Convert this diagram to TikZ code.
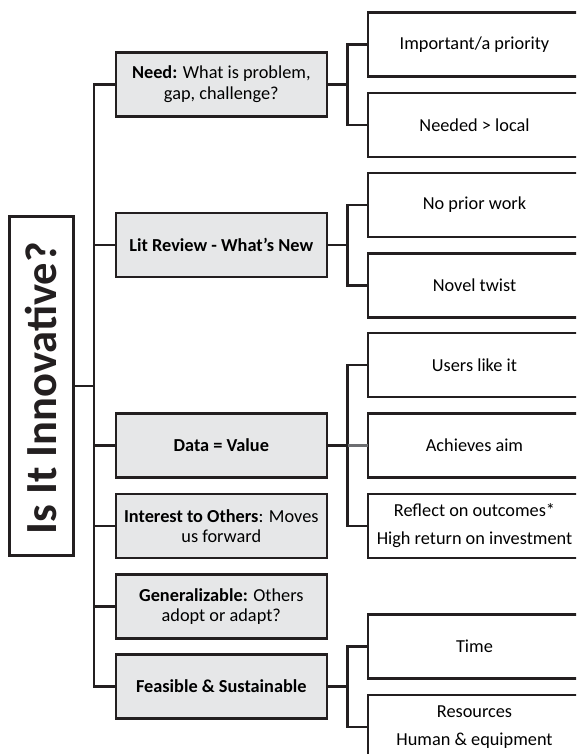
\documentclass[tikz,border=0pt]{standalone}
\usepackage{fontspec}
\setmainfont{Carlito}
\definecolor{ink}{HTML}{231F20}
\definecolor{boxfill}{HTML}{E6E7E8}
\definecolor{midgray}{HTML}{6D6E71}
\begin{document}
\begin{tikzpicture}[x=1pt,y=-1pt,
  every node/.style={inner sep=0pt,outer sep=0pt},
  conn/.style={draw=ink,line width=2.5pt},
  midbox/.style={draw=ink,line width=2.5pt,fill=boxfill,rectangle,minimum width=211pt,minimum height=64.4pt,align=center,font=\fontsize{18.3}{20.7}\selectfont},
  rbox/.style={draw=ink,line width=2.5pt,fill=white,rectangle,minimum width=213pt,minimum height=64pt,align=center,font=\fontsize{18.3}{28}\selectfont},
  titlebox/.style={draw=ink,line width=2.5pt,fill=white,rectangle,minimum width=64pt,minimum height=339pt}
]
\useasboundingbox (0,0) rectangle (576,754);
\clip (0,0) rectangle (576,754);
\fill[white] (0,0) rectangle (576,754);

% title
\node[titlebox] (title) at (41.5,385.8) {};
\node[rotate=90,font=\fontsize{44.5}{50}\selectfont\bfseries,text=ink] (titletext) at (41.2,388.4) {Is It Innovative?};

% middle column
\node[midbox] (need) at (221.3,84.5) {\textbf{Need:} What is problem,\\gap, challenge?};
\node[midbox] (lit) at (221.3,245) {\textbf{Lit Review - What{\char"27}s New}};
\node[midbox] (data) at (221.3,445.5) {\textbf{Data = Value}};
\node[midbox] (inter) at (221.3,526) {\textbf{Interest to Others}: Moves\\us forward};
\node[midbox] (gen) at (221.3,606.5) {\textbf{Generalizable:} Others\\adopt or adapt?};
\node[midbox] (feas) at (221.3,686.5) {\textbf{Feasible \& Sustainable}};

% right column
\node[rbox] (imp) at (474.5,44.7) {Important/a priority};
\node[rbox] (needed) at (474.5,125) {Needed > local};
\node[rbox] (noprior) at (474.5,205) {No prior work};
\node[rbox] (novel) at (474.5,285.5) {Novel twist};
\node[rbox] (users) at (474.5,365) {Users like it};
\node[rbox] (achieves) at (474.5,445.5) {Achieves aim};
\node[rbox] (reflect) at (474.5,526) {Reflect on outcomes*\\High return on investment};
\node[rbox] (time) at (474.5,646.5) {Time};
\node[rbox] (res) at (474.5,727) {Resources\\Human \& equipment};

\coordinate (trunk) at (94,0);
\coordinate (br) at (347.5,0);

% trunk
\draw[conn] (need.west) -- (need.west -| trunk) -- (feas.west -| trunk) -- (feas.west);
\draw[conn] (title.east) -- (title.east -| trunk);
\draw[conn] (lit.west) -- (lit.west -| trunk);
\draw[conn] (data.west) -- (data.west -| trunk);
\draw[conn] (inter.west) -- (inter.west -| trunk);
\draw[conn] (gen.west) -- (gen.west -| trunk);

% right branches
\draw[conn] (imp.west) -- (imp.west -| br) -- (needed.west -| br) -- (needed.west);
\draw[conn] (need.east) -- (need.east -| br);
\draw[conn] (noprior.west) -- (noprior.west -| br) -- (novel.west -| br) -- (novel.west);
\draw[conn] (lit.east) -- (lit.east -| br);
\draw[conn] (users.west) -- (users.west -| br) -- (reflect.west -| br) -- (reflect.west);
\draw[conn] (data.east) -- (data.east -| br);
\draw[conn,draw=midgray] (data.east -| br) -- (achieves.west);
\draw[conn] (time.west) -- (time.west -| br) -- (res.west -| br) -- (res.west);
\draw[conn] (feas.east) -- (feas.east -| br);
\end{tikzpicture}
\end{document}
